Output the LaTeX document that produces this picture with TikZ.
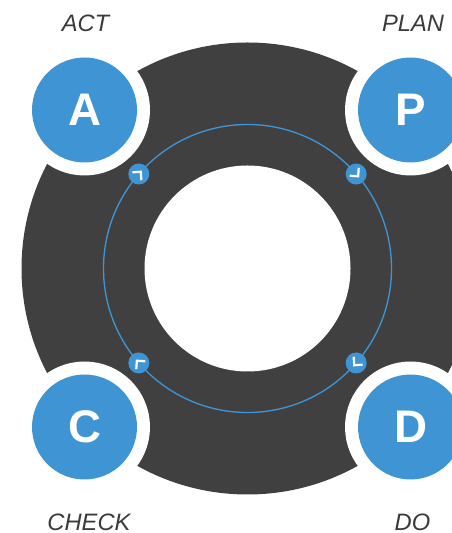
\documentclass[tikz,border=0pt]{standalone}
\usepackage{fontspec}
\setmainfont{Liberation Sans}
\usetikzlibrary{calc}
\definecolor{ringgray}{HTML}{404040}
\definecolor{cycleblue}{HTML}{3F95D3}
\definecolor{labelgray}{HTML}{3A3A3A}
\tikzset{
    chevron/.pic={\draw[white, line width=1.25pt] (-3,-6) -- (3,0) -- (-3,6);}
}
\begin{document}
\begin{tikzpicture}[x=0.02cm, y=0.02cm,
    phase/.style={circle, fill=cycleblue, minimum size=2.1cm, inner sep=0pt,
        preaction={draw=white, line width=0.52cm},
        text=white, font=\fontsize{26}{26}\selectfont\bfseries},
    stage/.style={text=labelgray, font=\fontsize{13.5}{14}\selectfont\itshape},
    marker/.style={circle, fill=cycleblue, minimum size=0.42cm, inner sep=0pt}]
    \useasboundingbox (0,0) rectangle (452,533);
    \clip (0,0) rectangle (452,533);
    \coordinate (O) at (247.5,264.5);
    \fill[ringgray] (O) circle (226);
    \fill[white] (O) circle (103);
    \draw[cycleblue, line width=0.75pt] (O) circle (144);
    % the four phases
    \node[phase] (A) at (84.5,423) {A};
    \node[phase] (P) at (410.5,423) {P};
    \node[phase] (C) at (84.5,106) {C};
    \node[phase] (D) at (410.5,106) {D};
    \node[stage] (act) at (85.5,509.5) {ACT};
    \node[stage] (plan) at (413,509.5) {PLAN};
    \node[stage] (check) at (89,11) {CHECK};
    \node[stage] (do) at (412.5,11) {DO};
    % direction markers on the ring
    \node[marker] (mA) at ($(O)+(139:144)$) {};
    \node[marker] (mP) at ($(O)+(41:144)$) {};
    \node[marker] (mD) at ($(O)+(319:144)$) {};
    \node[marker] (mC) at ($(O)+(221:144)$) {};
    \pic[rotate=49] at (mA) {chevron};
    \pic[rotate=-49] at (mP) {chevron};
    \pic[rotate=229] at (mD) {chevron};
    \pic[rotate=131] at (mC) {chevron};
\end{tikzpicture}
\end{document}
